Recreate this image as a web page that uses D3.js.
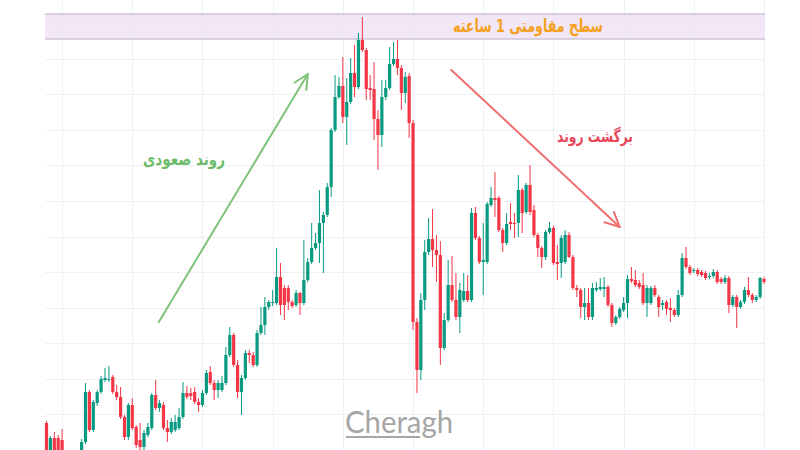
<!DOCTYPE html>
<html>
<head>
<meta charset="utf-8">
<script src="https://cdn.jsdelivr.net/npm/d3@7/dist/d3.min.js"></script>
<style>
html,body{margin:0;padding:0;background:#fff;}
svg{display:block;}
</style>
</head>
<body>
<svg id="chart" width="800" height="450"></svg>
<script>
// ---- data (price units, arbitrary) ----
const opens  = [77,48,62,62,60,42,25,38,30,48,58,108,70,97,108,120,120,123,108,103,83,63,95,73,60,53,65,72,105,92,95,72,68,70,72,83,107,107,108,98,95,107,128,117,110,110,117,145,165,135,108,122,147,145,135,167,175,193,197,197,223,212,212,198,195,207,197,220,238,252,257,277,285,313,370,403,414,383,398,427,413,460,450,412,411,381,365,403,412,436,441,432,407,424,377,178,130,200,248,261,250,245,152,180,215,200,183,200,209,200,287,262,238,238,295,302,302,270,257,278,277,277,310,288,315,290,265,252,243,268,272,238,237,238,265,243,212,210,193,197,183,210,211,211,213,195,177,183,190,197,221,220,217,215,197,197,212,203,195,198,192,190,185,205,242,233,229,230,228,227,223,224,228,221,218,222,195,203,193,198,210,205,200,203,221];
const highs  = [79,64,68,65,71,45,40,42,47,61,117,110,100,110,124,132,134,125,115,113,85,97,102,75,77,70,77,107,120,100,98,80,82,85,92,118,114,112,113,102,110,130,134,120,120,124,153,173,167,140,125,150,150,148,170,193,203,200,210,252,237,215,215,200,210,208,260,242,277,267,310,288,317,372,425,423,443,422,442,455,467,483,452,425,438,390,420,420,453,458,460,435,428,427,380,182,207,260,282,291,265,259,187,240,244,227,217,227,225,292,293,264,277,298,313,328,304,272,287,297,287,325,312,317,335,295,267,254,270,278,274,255,265,270,268,245,215,212,212,212,217,218,222,223,215,197,185,193,203,225,233,230,220,227,215,214,215,205,200,200,202,192,210,247,253,235,232,232,230,229,227,231,230,223,225,224,205,205,200,213,223,207,205,223,223];
const lows   = [42,45,44,44,38,28,22,25,28,45,56,68,68,94,106,118,118,106,100,81,60,60,70,52,50,50,63,70,90,88,70,58,66,68,70,81,101,100,96,88,93,105,115,100,102,108,115,143,133,102,85,120,137,133,133,165,165,190,194,195,185,180,190,192,193,185,195,218,236,250,237,227,283,303,368,401,377,355,396,403,411,448,400,400,360,330,353,400,410,434,425,390,397,362,170,107,120,190,245,233,218,135,150,178,198,180,167,198,198,198,260,236,205,236,293,283,268,248,255,270,262,263,267,286,285,263,243,232,240,266,235,220,222,236,242,210,203,182,180,180,180,208,209,203,193,173,175,181,188,182,217,213,211,195,183,195,203,183,190,185,178,183,183,203,231,225,227,224,223,220,221,222,216,216,216,187,193,172,191,196,203,197,198,201,216];
const closes = [45,62,50,48,42,30,38,28,46,58,108,70,98,108,121,122,121,108,103,83,63,95,72,55,53,67,73,105,92,97,72,68,78,78,83,107,103,104,98,95,107,127,117,110,117,117,145,165,135,108,122,147,145,135,167,175,193,198,198,223,195,195,198,194,207,197,220,238,252,257,277,285,313,370,403,414,383,398,427,413,460,450,411,410,381,365,403,412,436,441,432,407,423,377,178,130,200,248,261,250,245,152,180,215,200,183,210,209,200,287,262,238,240,296,302,300,270,257,276,276,276,310,287,315,288,265,252,243,268,272,237,236,262,265,243,212,210,193,197,183,212,212,213,213,195,177,183,191,197,221,219,215,213,197,212,212,205,193,197,191,190,185,205,242,233,227,230,226,225,222,224,228,218,218,222,195,203,193,198,210,205,200,203,222,218];

const gridPrices = [86,121.5,157,192.5,228,263.5,299,335,370.5,406,441.5,477];
const gridIndex  = [4,22,40,58,76,94,112,130,148,166,184];
const resistance = [461,486];               // 1h resistance zone
const labels = {
  zone: "سطح مقاومتی 1 ساعته",
  up:   "روند صعودی",
  down: "برگشت روند",
  mark: "Cheragh"
};
// trend arrows as [candle index, price] endpoints
const upTrend   = [[28.8,178],[67,426]];
const downTrend = [[103.8,430],[147,273]];

// ---- build ----
const candles = opens.map((o,i)=>({i,o,h:highs[i],l:lows[i],c:closes[i]}));
const W=800,H=450;
const svg=d3.select("#chart");
const x=d3.scaleLinear().domain([0,candles.length-1]).range([46.5,764]);
const y=d3.scaleLinear().domain([50,500]).range([450,0]);
const left=45,right=765;

// grid
svg.append("g").selectAll("line").data(gridPrices).join("line")
  .attr("x1",left).attr("x2",right)
  .attr("y1",d=>Math.round(y(d))+0.5).attr("y2",d=>Math.round(y(d))+0.5)
  .attr("stroke","#f0eff3").attr("stroke-width",1);
svg.append("g").selectAll("line").data(gridIndex).join("line")
  .attr("x1",d=>Math.round(x(d))+0.5).attr("x2",d=>Math.round(x(d))+0.5)
  .attr("y1",0).attr("y2",H)
  .attr("stroke","#f0eff3").attr("stroke-width",1);

// resistance zone
svg.append("rect").attr("x",left).attr("width",right-left)
  .attr("y",y(resistance[1])).attr("height",y(resistance[0])-y(resistance[1]))
  .attr("fill","#efe3f6").attr("fill-opacity",0.85);
svg.append("g").selectAll("line").data(resistance).join("line")
  .attr("x1",left).attr("x2",right)
  .attr("y1",d=>y(d)).attr("y2",d=>y(d))
  .attr("stroke","#cdc3d4").attr("stroke-width",1.5);

// candles
const up="#089981", dn="#f23645";
const g=svg.append("g");
g.selectAll("line.wick").data(candles).join("line").attr("class","wick")
  .attr("x1",d=>x(d.i)).attr("x2",d=>x(d.i))
  .attr("y1",d=>y(d.h)).attr("y2",d=>y(d.l))
  .attr("stroke",d=>d.c>=d.o?up:dn).attr("stroke-width",1);
g.selectAll("rect.body").data(candles).join("rect").attr("class","body")
  .attr("x",d=>x(d.i)-1.6).attr("width",3.2)
  .attr("y",d=>y(Math.max(d.o,d.c)))
  .attr("height",d=>Math.max(1,Math.abs(y(d.o)-y(d.c))))
  .attr("fill",d=>d.c>=d.o?up:dn);

// arrows
function arrow(pts,color){
  const [a,b]=pts;
  const x1=x(a[0]),y1=y(a[1]),x2=x(b[0]),y2=y(b[1]);
  const ang=Math.atan2(y2-y1,x2-x1);
  const L=16, s=0.45;
  const p1=[x2-L*Math.cos(ang-s),y2-L*Math.sin(ang-s)];
  const p2=[x2-L*Math.cos(ang+s),y2-L*Math.sin(ang+s)];
  svg.append("line").attr("x1",x1).attr("y1",y1).attr("x2",x2).attr("y2",y2)
    .attr("stroke",color).attr("stroke-width",2).attr("stroke-linecap","round");
  svg.append("path").attr("d",`M${p1[0]},${p1[1]}L${x2},${y2}L${p2[0]},${p2[1]}`)
    .attr("fill","none").attr("stroke",color).attr("stroke-width",2)
    .attr("stroke-linecap","round").attr("stroke-linejoin","round");
}
arrow(upTrend,"#7cc47a");
arrow(downTrend,"#ef7070");

// labels
function label(txt,cx,by,size,len,color){
  svg.append("text").attr("x",cx).attr("y",by).attr("text-anchor","middle")
    .attr("direction","rtl").attr("font-family","DejaVu Sans").attr("font-weight","bold")
    .attr("font-size",size).attr("fill",color)
    .attr("textLength",len).attr("lengthAdjust","spacingAndGlyphs").text(txt);
}
label(labels.zone,528,32,18,150,"#f5a020");
label(labels.up,184,165,17,82,"#6dbb68");
label(labels.down,595,142,17,76,"#e8485a");

// watermark
svg.append("text").attr("x",345).attr("y",433)
  .attr("font-family","Lato").attr("font-size",31).attr("fill","#a6a6a6")
  .attr("textLength",108).attr("lengthAdjust","spacingAndGlyphs")
  .text(labels.mark);
svg.append("line").attr("x1",346).attr("x2",420).attr("y1",437).attr("y2",437)
  .attr("stroke","#a6a6a6").attr("stroke-width",2);
</script>
</body>
</html>
